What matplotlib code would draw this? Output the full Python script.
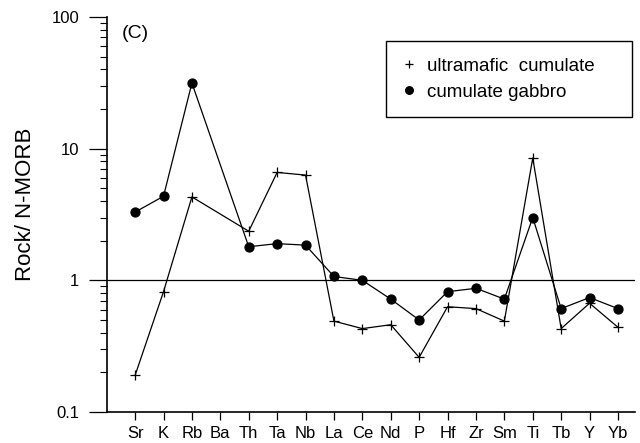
import numpy as np
import matplotlib.pyplot as plt
from matplotlib.ticker import LogLocator, NullFormatter, FixedLocator

plt.rcParams["font.family"] = ["Liberation Sans", "DejaVu Sans"]

ELEMENTS = ["Sr", "K", "Rb", "Ba", "Th", "Ta", "Nb", "La", "Ce", "Nd",
            "P", "Hf", "Zr", "Sm", "Ti", "Tb", "Y", "Yb"]

# Ba has no analysis -> NaN, line joins Rb to Th
ULTRAMAFIC = [0.19, 0.82, 4.3, np.nan, 2.36, 6.6, 6.3, 0.49, 0.43, 0.46,
              0.26, 0.63, 0.61, 0.49, 8.5, 0.43, 0.67, 0.44]
GABBRO = [3.3, 4.35, 31.5, np.nan, 1.8, 1.9, 1.85, 1.07, 1.0, 0.72,
          0.50, 0.82, 0.87, 0.72, 3.0, 0.61, 0.74, 0.61]


def plot_series(ax, values, marker, size, label):
    x = np.arange(len(values))
    y = np.array(values, dtype=float)
    ok = ~np.isnan(y)
    ax.plot(x[ok], y[ok], color="black", lw=0.9, zorder=2)
    ax.plot(x[ok], y[ok], ls="none", marker=marker, ms=size, mew=0.9,
            color="black", label=label, zorder=3)


fig = plt.figure(figsize=(6.4, 4.43), dpi=100)
ax = fig.add_axes([107 / 640, 1 - 412 / 443, 528 / 640, 395 / 443])

plot_series(ax, ULTRAMAFIC, "+", 7, "ultramafic  cumulate")
plot_series(ax, GABBRO, "o", 6.5, "cumulate gabbro")

ax.axhline(1, color="black", lw=0.9, zorder=1)

ax.set_yscale("log")
ax.set_ylim(0.1, 100)
ax.set_xlim(-0.99, 17.6)

ax.yaxis.set_major_locator(FixedLocator([0.1, 1, 10, 100]))
ax.set_yticklabels(["0.1", "1", "10", "100"])
ax.yaxis.set_minor_locator(LogLocator(base=10, subs=np.arange(2, 10)))
ax.yaxis.set_minor_formatter(NullFormatter())
ax.tick_params(axis="y", which="major", length=13, width=0.9, pad=7,
               labelsize=12, direction="out")
ax.tick_params(axis="y", which="minor", length=5, width=0.8, direction="out")

ax.set_xticks(np.arange(len(ELEMENTS)))
ax.set_xticklabels(ELEMENTS)
ax.tick_params(axis="x", length=6, width=0.9, pad=4, labelsize=12,
               direction="out")

ax.spines["top"].set_visible(False)
ax.spines["right"].set_visible(False)
ax.spines["left"].set_linewidth(1.2)
ax.spines["bottom"].set_linewidth(1.2)

fig.text(26 / 640, 1 - 204 / 443, "Rock/ N-MORB", rotation=90,
         ha="center", va="center", fontsize=16)
ax.text(122 / 640, 1 - 33 / 443, "(C)", transform=fig.transFigure,
        ha="left", va="center", fontsize=14)

leg = ax.legend(loc="upper left",
                bbox_to_anchor=(386 / 640, 1 - 115 / 443, 246 / 640, 74 / 443),
                bbox_transform=fig.transFigure, mode="expand", fontsize=13.5,
                frameon=True, fancybox=False, edgecolor="black",
                handlelength=0.6, handletextpad=0.7, borderpad=0.9,
                labelspacing=0.45, borderaxespad=0, framealpha=1,
                markerscale=0.85)
leg.get_frame().set_linewidth(1.0)

fig.savefig("out.png", dpi=100)
